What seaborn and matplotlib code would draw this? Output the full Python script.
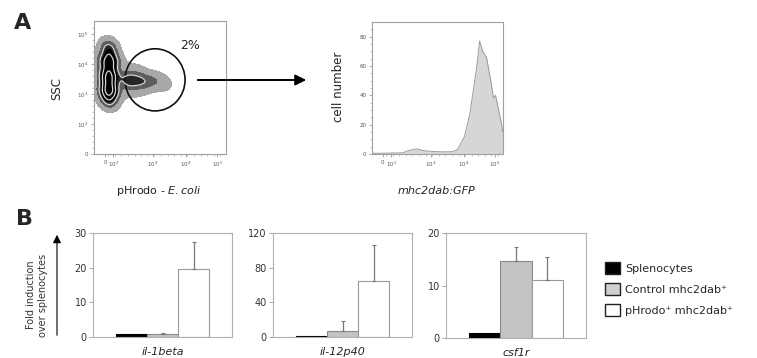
import matplotlib
matplotlib.use('Agg')
import matplotlib.pyplot as plt
from matplotlib.patches import Ellipse, Patch, FancyArrowPatch
from matplotlib.colors import ListedColormap
import numpy as np
import pandas as pd
import seaborn as sns

W, H = 757, 358

# ---- panel A: flow cytometry (axes in display units of the biexponential scale)
flow_ticks = [0, 0.25, 1.45, 2.45, 3.4]
flow_tick_labels = ['0', '10$^2$', '10$^3$', '10$^4$', '10$^5$']
ssc_ticks = [0, 1, 2, 3, 4]
ssc_tick_labels = ['0', '10$^2$', '10$^3$', '10$^4$', '10$^5$']

# density landmarks (x, y, relative weight)
dens_x = [0.12, 0.12, 0.12, 0.12, 0.12, 0.12, 0.12,
          -0.05, -0.05, -0.05, 0.3, 0.3, 0.3,
          0.65, 0.85, 1.05, 1.25, 1.45, 1.65, 1.85,
          0.75, 0.75, 1.05, 1.05]
dens_y = [1.8, 2.1, 2.4, 2.7, 3.0, 3.3, 3.55,
          2.1, 2.6, 3.1, 2.1, 2.6, 3.1,
          2.45, 2.45, 2.45, 2.4, 2.45, 2.4, 2.35,
          2.15, 2.75, 2.2, 2.7]
dens_w = [4, 6, 6, 5, 4, 3, 3,
          2, 2, 2, 2, 2, 2,
          2.4, 2.0, 1.7, 1.4, 1.1, 0.7, 0.35,
          0.7, 0.7, 0.5, 0.5]

gate_x, gate_y = 1.52, 2.47
gate_label = '2%'

# mhc2dab:GFP histogram of gated cells
gfp_x = [-0.33, 0.0, 0.61, 0.73, 0.9, 1.03, 1.2, 1.33, 1.73, 2.1, 2.27, 2.48,
         2.64, 2.85, 2.94, 3.03, 3.15, 3.30, 3.36, 3.42, 3.48, 3.61, 3.64]
gfp_count = [0.5, 0.5, 0.8, 2, 3, 3.5, 2.5, 2, 1.5, 1.5, 3, 12,
             27, 59, 77, 70, 66, 47, 38, 40, 34, 20, 15]

# ---- panel B: fold induction over splenocytes
genes = ['il-1beta', 'il-12p40', 'csf1r']
groups = ['Splenocytes', 'Control mhc2dab\u207a', 'pHrodo\u207a mhc2dab\u207a']
il1beta_mean = [1.0, 0.9, 19.7]
il1beta_sd = [0, 0.35, 7.7]
il12p40_mean = [0.7, 6.5, 65]
il12p40_sd = [0, 12, 41]
csf1r_mean = [1.0, 14.7, 11.0]
csf1r_sd = [0, 2.6, 4.4]
y_tops = [30, 120, 20]
y_tick_sets = [[0, 10, 20, 30], [0, 40, 80, 120], [0, 10, 20]]

bar_colors = ['#000000', '#c4c4c4', '#ffffff']
bar_edges = ['#000000', '#8a8a8a', '#9a9a9a']

sns.set_theme(style='white')
plt.rcParams['font.family'] = ['DejaVu Sans']

fig = plt.figure(figsize=(W / 100, H / 100), dpi=100)


def rect(l, t, r, b):
    return [l / W, 1 - b / H, (r - l) / W, (b - t) / H]


def fpt(x, y):
    return (x / W, 1 - y / H)


def flow_style(ax):
    for s in ax.spines.values():
        s.set_color('#a0a0a0')
        s.set_linewidth(0.8)
    ax.tick_params(axis='both', which='major', length=2, width=0.5,
                   color='#888', labelsize=4, labelcolor='#555', pad=2,
                   bottom=True, left=True)
    ax.tick_params(axis='both', which='minor', length=1.2, width=0.4,
                   color='#999', bottom=True, left=True)


# dot plot
dots = pd.DataFrame({'x': dens_x, 'y': dens_y, 'w': dens_w})
ax_s = fig.add_axes(rect(94, 21, 226, 154))
sns.kdeplot(data=dots, x='x', y='y', weights='w', fill=True, bw_adjust=0.6,
            levels=[0.015, 0.04, 0.08, 0.14, 0.3, 0.5, 1.0],
            cmap=ListedColormap(['#a8a8a8', '#5e5e5e', '#262626', '#080808',
                                 '#000000', '#555555']), ax=ax_s)
sns.kdeplot(data=dots, x='x', y='y', weights='w', fill=False, bw_adjust=0.6,
            levels=[0.3, 0.6, 0.85],
            cmap=ListedColormap(['#d4d4d4']), linewidths=0.9, ax=ax_s)
ax_s.add_patch(Ellipse((gate_x, gate_y), 1.82, 2.07, fill=False,
                       edgecolor='#111', linewidth=1.2))
ax_s.text(2.58, 3.6, gate_label, fontsize=9, ha='center', va='center')
ax_s.set_xlim(-0.33, 3.67)
ax_s.set_ylim(0, 4.43)
ax_s.set_xticks(flow_ticks, flow_tick_labels)
ax_s.set_yticks(ssc_ticks, ssc_tick_labels)
ax_s.set_xticks(np.arange(0.1, 3.6, 0.2), minor=True)
ax_s.set_yticks(np.arange(0.2, 4.4, 0.2), minor=True)
ax_s.set_xlabel('')
ax_s.set_ylabel('')
flow_style(ax_s)

# histogram
ax_h = fig.add_axes(rect(372, 22, 503, 154))
sns.lineplot(x=gfp_x, y=gfp_count, color='#9a9a9a', linewidth=0.7, ax=ax_h)
ax_h.fill_between(gfp_x, gfp_count, color='#d6d6d6', linewidth=0)
ax_h.set_xlim(-0.33, 3.65)
ax_h.set_ylim(0, 90)
ax_h.set_xticks(flow_ticks, flow_tick_labels)
ax_h.set_yticks([0, 20, 40, 60, 80])
ax_h.set_xticks(np.arange(0.1, 3.6, 0.2), minor=True)
ax_h.set_yticks(np.arange(0, 90, 5), minor=True)
flow_style(ax_h)

fig.text(*fpt(57, 88), 'SSC', rotation=90, fontsize=8.5, ha='center', va='center', color='#222')
fig.text(*fpt(338, 87), 'cell number', rotation=90, fontsize=8.5, ha='center', va='center', color='#222')
fig.text(*fpt(159, 191), 'pHrodo - $\\mathit{E.coli}$', fontsize=8, ha='center', va='center', color='#222')
fig.text(*fpt(436, 191), 'mhc2dab:GFP', fontsize=8, style='italic', ha='center', va='center', color='#222')
fig.text(*fpt(23, 23), 'A', fontsize=16, fontweight='bold', ha='center', va='center')
fig.text(*fpt(24, 219), 'B', fontsize=16, fontweight='bold', ha='center', va='center')

fig.add_artist(FancyArrowPatch(
    fpt(195, 80), fpt(309, 80), transform=fig.transFigure, arrowstyle='-|>',
    mutation_scale=16, linewidth=1.4, color='black'))
fig.add_artist(FancyArrowPatch(
    fpt(57, 338), fpt(57, 232), transform=fig.transFigure, arrowstyle='-|>',
    mutation_scale=12, linewidth=0.8, color='black'))
fig.text(*fpt(37, 295), 'Fold induction\nover splenocytes', rotation=90, fontsize=7,
         ha='center', va='center', color='#333', linespacing=1.3)

# bar charts
bar_rects = [(93, 233, 232, 337), (273, 233, 412, 337), (446, 233, 586, 338)]
means = [il1beta_mean, il12p40_mean, csf1r_mean]
sds = [il1beta_sd, il12p40_sd, csf1r_sd]
for i, gene in enumerate(genes):
    ax = fig.add_axes(rect(*bar_rects[i]))
    df = pd.DataFrame({'gene': [gene] * 3, 'group': groups, 'fold': means[i]})
    sns.barplot(data=df, x='gene', y='fold', hue='group', hue_order=groups,
                palette=bar_colors, width=0.67, legend=False, ax=ax)
    for p, ec, sd in zip(ax.patches[:3], bar_edges, sds[i]):
        p.set_edgecolor(ec)
        p.set_linewidth(0.8)
        if sd > 0:
            cx = p.get_x() + p.get_width() / 2
            ax.errorbar(cx, p.get_height(), yerr=[[0], [sd]], color='#777',
                        capsize=1.5, elinewidth=0.9, capthick=0.8)
    ax.set_xlim(-0.5, 0.5)
    ax.set_ylim(0, y_tops[i])
    ax.set_yticks(y_tick_sets[i])
    ax.set_xlabel('')
    ax.set_ylabel('')
    for s in ax.spines.values():
        s.set_color('#b0b0b0')
        s.set_linewidth(0.8)
    ax.tick_params(axis='y', left=True, length=3, width=0.6, color='#999',
                   labelsize=7, labelcolor='#333', pad=1.5)
    ax.tick_params(axis='x', length=0, labelsize=8, pad=7)
    for t in ax.get_xticklabels():
        t.set_style('italic')

handles = [Patch(facecolor=c, edgecolor='#222', linewidth=1) for c in ['#000000', '#d0d0d0', '#ffffff']]
fig.legend(handles, groups, loc='center left', bbox_to_anchor=fpt(596, 289),
           frameon=False, fontsize=8, handlelength=1.4, handleheight=1.2,
           labelspacing=0.85, handletextpad=0.4, borderpad=0.3)

fig.savefig('out.png', dpi=100)
